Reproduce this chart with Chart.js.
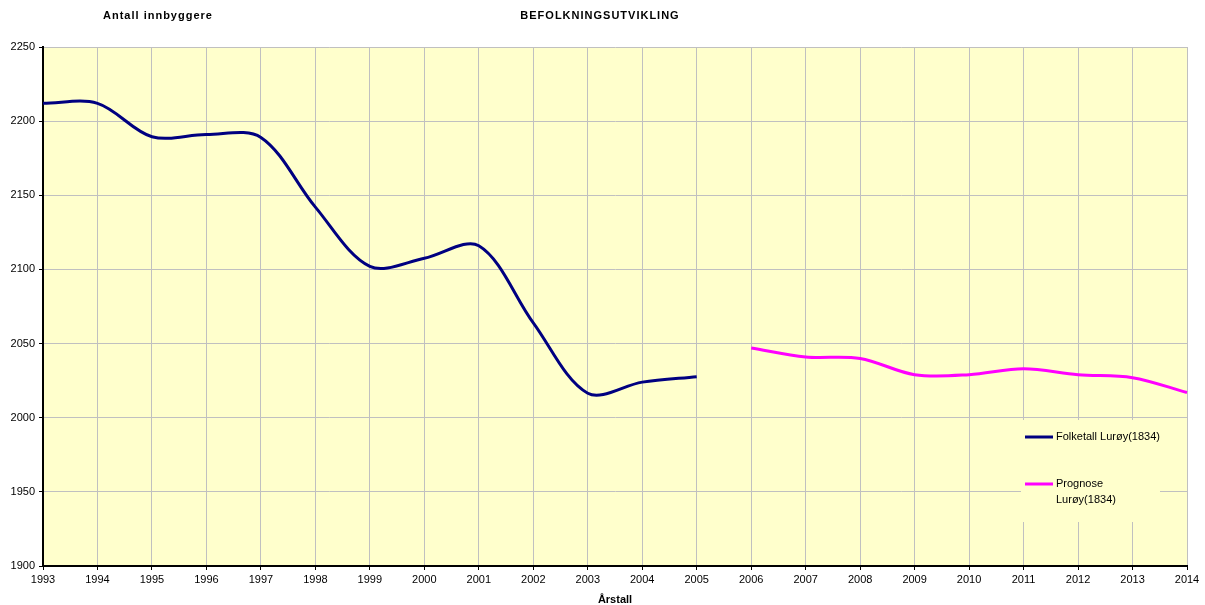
<!DOCTYPE html>
<html lang="no">
<head>
  <meta charset="UTF-8" />
  <title>Befolkningsutvikling Lurøy</title>
  <script src="https://cdn.jsdelivr.net/npm/chart.js"></script>
  <style>
    html, body { margin: 0; padding: 0; background: #fff; }
    #wrap { position: relative; width: 1205px; height: 605px; }
    .lbl { position: absolute; font-family: "Liberation Sans", Arial, sans-serif; font-size: 11px; font-weight: bold; letter-spacing: 1px; color: #000; white-space: nowrap; transform: translate(-50%, -50%); }
  </style>
</head>
<body>
  <div id="wrap">
    <canvas id="popChart" width="1205" height="605"></canvas>
    <div class="lbl" style="left:158px; top:15px;">Antall innbyggere</div>
    <div class="lbl" style="left:600px; top:15px;">BEFOLKNINGSUTVIKLING</div>
  </div>

  <script>
    // years on the category axis
    const years = ['1993','1994','1995','1996','1997','1998','1999','2000','2001','2002','2003',
                   '2004','2005','2006','2007','2008','2009','2010','2011','2012','2013','2014'];

    // registered population 1993-2005
    const folketall = [2212, 2212, 2189.5, 2191, 2189, 2142, 2102, 2107.5, 2116, 2064, 2016.5, 2024, 2027.7];
    // forecast 2006-2014
    const prognose = [2047, 2041, 2040, 2029, 2029, 2033, 2029, 2027, 2017];

    const yTicks = [1900, 1950, 2000, 2050, 2100, 2150, 2200, 2250];

    const seriesNames = ['Folketall Lurøy(1834)', ['Prognose', 'Lurøy(1834)']];
    const seriesColors = ['#000080', '#FF00FF'];

    // pad the two series out to the full year range
    const blueData = years.map((y, i) => i < folketall.length ? folketall[i] : null);
    const pinkData = years.map((y, i) => {
      const j = i - (years.length - prognose.length);
      return j >= 0 ? prognose[j] : null;
    });

    const FONT = '"Liberation Sans", Arial, sans-serif';

    // yellow plot background
    const plotBg = {
      id: 'plotBg',
      beforeDraw(chart) {
        const { ctx, chartArea: a } = chart;
        ctx.save();
        ctx.fillStyle = '#FFFFCC';
        ctx.fillRect(a.left, a.top, a.right - a.left, a.bottom - a.top);
        ctx.restore();
      }
    };

    // legend box sitting inside the plot, bottom right
    const innerLegend = {
      id: 'innerLegend',
      afterDatasetsDraw(chart) {
        const { ctx, chartArea: a } = chart;
        const x0 = a.right - 166, y0 = a.top + 373;
        ctx.save();
        ctx.fillStyle = '#FFFFCC';
        ctx.fillRect(x0, y0, 139, 102);
        ctx.font = '11px ' + FONT;
        ctx.textBaseline = 'middle';
        ctx.fillStyle = '#000';
        const rows = [y0 + 17, y0 + 64];
        seriesNames.forEach((name, i) => {
          ctx.strokeStyle = seriesColors[i];
          ctx.lineWidth = 3;
          ctx.beginPath();
          ctx.moveTo(x0 + 4, rows[i]);
          ctx.lineTo(x0 + 32, rows[i]);
          ctx.stroke();
          const lines = Array.isArray(name) ? name : [name];
          lines.forEach((t, k) => ctx.fillText(t, x0 + 35, rows[i] + k * 16));
        });
        ctx.restore();
      }
    };

    const ctx = document.getElementById('popChart').getContext('2d');
    new Chart(ctx, {
      type: 'line',
      data: {
        labels: years,
        datasets: [{
          label: 'Folketall Lurøy(1834)',
          data: blueData,
          borderColor: seriesColors[0],
          borderWidth: 3,
          pointRadius: 0,
          tension: 0.33,
          fill: false
        }, {
          label: 'Prognose Lurøy(1834)',
          data: pinkData,
          borderColor: seriesColors[1],
          borderWidth: 3,
          pointRadius: 0,
          tension: 0.33,
          fill: false
        }]
      },
      options: {
        responsive: false,
        animation: false,
        layout: { padding: { top: 47, right: 18, left: 0, bottom: 0 } },
        plugins: {
          legend: { display: false },
          tooltip: { enabled: false }
        },
        scales: {
          x: {
            offset: false,
            grid: { color: '#C0C0C0', tickColor: '#000', tickLength: 4 },
            border: { color: '#000', width: 2 },
            ticks: { autoSkip: false, maxRotation: 0, padding: 3, color: '#000', font: { family: FONT, size: 11 } },
            title: { display: true, text: 'Årstall', color: '#000', padding: { top: 0, bottom: 0 }, font: { family: FONT, size: 11, weight: 'bold', lineHeight: 1 } },
            afterFit(scale) { scale.height = 39; }
          },
          y: {
            min: yTicks[0],
            max: yTicks[yTicks.length - 1],
            afterBuildTicks(scale) { scale.ticks = yTicks.map(v => ({ value: v })); },
            grid: { color: '#C0C0C0', tickColor: '#000', tickLength: 4 },
            border: { color: '#000', width: 2 },
            ticks: { padding: 4, color: '#000', font: { family: FONT, size: 11 }, callback: v => String(v) },
            afterFit(scale) { scale.width = 43; }
          }
        }
      },
      plugins: [plotBg, innerLegend]
    });
  </script>
</body>
</html>
